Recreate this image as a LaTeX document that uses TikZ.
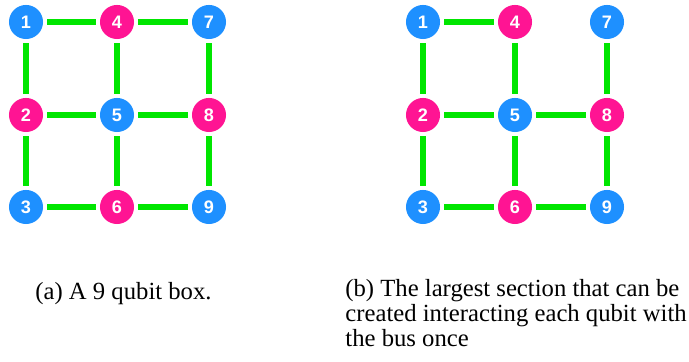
\documentclass[tikz,border=0pt]{standalone}
\usepackage{fontspec}
\setmainfont{Liberation Serif}
\newfontfamily\numfont{Liberation Sans}
\definecolor{qblue}{RGB}{30,144,255}
\definecolor{qpink}{RGB}{255,20,147}
\definecolor{qgreen}{RGB}{0,230,0}
\begin{document}
\begin{tikzpicture}[x=0.47pt,y=-0.47pt,
  qb/.style={circle,fill=qblue,minimum size=16pt,inner sep=0pt,outer sep=1.9pt,text=white,font=\numfont\bfseries\fontsize{8.5}{10}\selectfont},
  qp/.style={qb,fill=qpink},
  bus/.style={qgreen,line width=2.8pt},
  captext/.style={anchor=base west,align=left,inner sep=0pt,font=\fontsize{11.6}{11.75}\selectfont}]
\useasboundingbox (0,0) rectangle (689,362);
% left grid
\node[qb] (a1) at (26,22) {1};
\node[qp] (a2) at (26,115) {2};
\node[qb] (a3) at (26,207) {3};
\node[qp] (a4) at (117,22) {4};
\node[qb] (a5) at (117,115) {5};
\node[qp] (a6) at (117,207) {6};
\node[qb] (a7) at (209,22) {7};
\node[qp] (a8) at (209,115) {8};
\node[qb] (a9) at (209,207) {9};
\draw[bus] (a1)--(a4) (a4)--(a7) (a2)--(a5) (a5)--(a8) (a3)--(a6) (a6)--(a9)
  (a1)--(a2) (a2)--(a3) (a4)--(a5) (a5)--(a6) (a7)--(a8) (a8)--(a9);
% right grid
\node[qb] (b1) at (423,22) {1};
\node[qp] (b2) at (423,115) {2};
\node[qb] (b3) at (423,207) {3};
\node[qp] (b4) at (515,22) {4};
\node[qb] (b5) at (515,115) {5};
\node[qp] (b6) at (515,207) {6};
\node[qb] (b7) at (607,22) {7};
\node[qp] (b8) at (607,115) {8};
\node[qb] (b9) at (607,207) {9};
\draw[bus] (b1)--(b4) (b2)--(b5) (b5)--(b8) (b3)--(b6) (b6)--(b9)
  (b1)--(b2) (b2)--(b3) (b4)--(b5) (b5)--(b6) (b7)--(b8) (b8)--(b9);
% captions
\node[captext] (capa) at (35,300) {(a) A 9 qubit box.};
\node[captext] (capb) at (345,346.5) {(b) The largest section that can be\\created interacting each qubit with\\the bus once};
\end{tikzpicture}
\end{document}
